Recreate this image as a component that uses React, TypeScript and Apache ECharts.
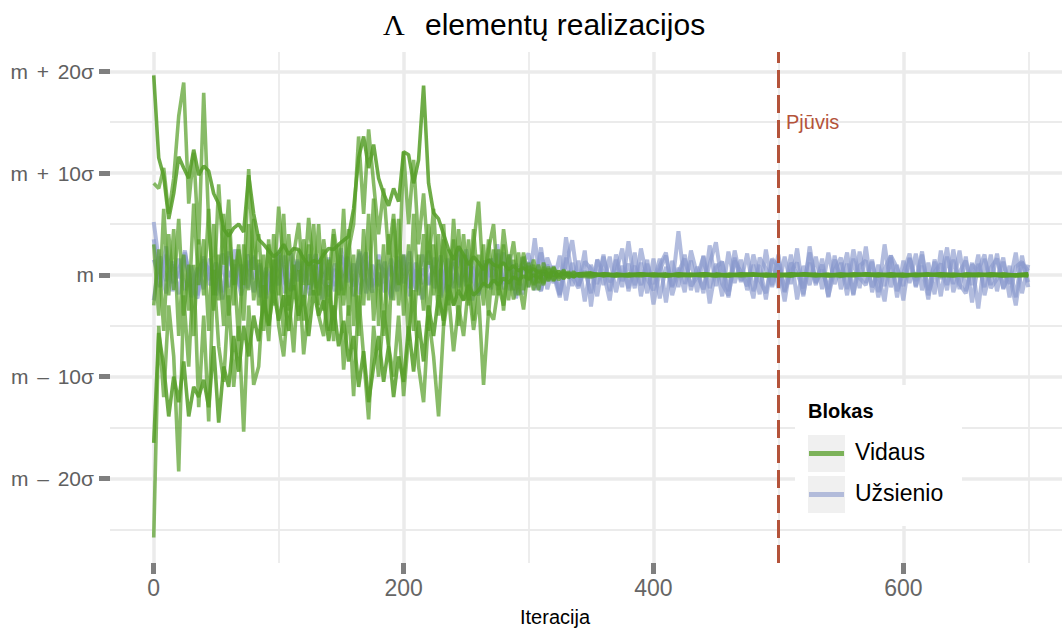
import React, { useEffect, useRef } from "react";
import * as echarts from "echarts";

// ---- iteration grids ----
const HEAD_ITERS: number[] = Array.from({ length: 86 }, (_, i) => i * 4); // 0..340
const TAIL_ITERS: number[] = Array.from({ length: 36 }, (_, i) => 350 + i * 10); // 350..700
const BLUE_ITERS: number[] = Array.from({ length: 141 }, (_, i) => i * 5); // 0..700

// ---- Vidaus (green) chains, in sigma units around m ----
const G1_HEAD = [
  19.6, 11.5, 9.7, 5.5, 8.0, 11.6, 10.5, 9.5, 12.3, 9.8,
  10.7, 10.2, 8.0, 7.0, 4.5, 3.8, 4.6, 5.0, 4.2, 9.8,
  6.0, 3.5, 3.0, 2.4, 1.8, 2.2, 3.0, 2.0, 2.6, 2.5,
  1.6, 1.0, 1.4, 1.2, 2.0, 2.6, 2.5, 3.0, 3.4, 3.8,
  6.5, 11.5, 13.6, 10.5, 12.8, 9.5, 8.0, 6.8, 8.5, 7.2,
  12.1, 11.8, 9.0, 11.3, 18.6, 9.0, 6.1, 5.5, 4.0, 2.5,
  1.5, 2.8, 2.0, 1.0, 1.8, 1.2, 0.5, 1.5, 1.0, 0.8,
  1.2, 0.5, 0.9, 0.4, 0.7, 0.3, 0.6, 0.2, 0.4, 0.1,
  0.3, 0.0, 0.2, 0.1, -0.1, 0.1,
];
const G2_HEAD = [
  9.0, 8.5, 10.5, 6.0, 9.5, 15.6, 18.9, 7.0, 12.0, 3.0,
  17.9, 5.0, -2.0, 8.9, 1.0, 7.4, -3.0, 2.5, -1.0, 10.4,
  0.5, 4.0, -2.5, 3.0, -1.5, 6.7, 1.0, -3.0, 2.0, 5.1,
  -1.0, 5.6, 0.5, -2.0, 3.5, -0.5, 4.5, 1.0, -3.0, 2.5,
  5.0, 13.6, 6.0, 14.3, 9.0, 4.0, 8.5, 2.0, 6.0, -1.0,
  12.1, 5.0, 11.3, 3.0, 8.0, 1.0, 6.5, -2.0, 3.5, -3.0,
  5.5, -1.5, 4.0, -2.5, 3.0, 7.2, -1.0, 2.5, 5.0, -1.5,
  4.5, 0.5, 3.3, -1.0, 2.2, -0.5, 1.5, -0.8, 1.2, -0.5,
  0.8, -0.3, 0.5, -0.2, 0.3, -0.1,
];
const G3_HEAD = [
  -16.5, -5.7, -9.0, -13.9, -10.0, -12.5, -8.5, -13.9, -11.0, -12.0,
  -10.3, -13.0, -7.0, -14.5, -9.0, -11.0, -6.0, -9.5, -5.0, -8.0,
  -4.0, -6.5, -2.5, -5.0, -1.5, -4.5, -2.0, -5.5, -1.0, -4.0,
  -2.0, -6.0, -1.5, -4.0, -2.5, -6.5, -3.0, -7.0, -4.5, -8.5,
  -6.0, -11.0, -7.5, -12.5, -9.0, -6.0, -10.5, -7.0, -12.0, -8.0,
  -10.5, -5.0, -9.5, -4.5, -8.5, -3.0, -6.0, -2.0, -4.5, -1.0,
  -3.0, -1.5, -2.5, -1.0, -2.0, -1.5, -0.8, -1.2, -0.5, -1.0,
  -0.3, -0.8, -0.2, -0.5, -0.1, -0.4, 0.0, -0.3, 0.1, -0.2,
  0.0, -0.1, 0.1, 0.0, -0.1, 0.0,
];
const G4_HEAD = [
  -25.8, -5.0, -12.0, -3.0, -8.0, -19.3, -2.0, -9.0, 1.0, -13.0,
  -4.0, -14.4, 0.5, -7.0, -10.5, -2.0, -11.0, -5.0, -15.4, -3.0,
  -10.8, -9.0, -1.0, -6.5, 1.5, -5.0, -8.0, -2.0, -7.6, 0.5,
  -7.8, -3.0, 1.0, -4.0, -6.0, -1.0, -5.5, 0.5, -9.3, -3.0,
  -11.9, -2.0, -8.0, -14.2, -5.0, -10.0, -3.5, -7.0, -10.0, -4.0,
  -11.9, -6.0, -1.5, -9.0, -12.5, -4.0, -8.0, -13.9, -5.0, -2.0,
  -7.5, -3.0, -6.0, -1.0, -5.4, -2.0, -10.8, -3.5, -4.4, -1.0,
  -3.0, 0.5, -2.4, -0.5, -3.4, 0.9, -1.5, 0.5, -1.0, 0.8,
  -0.6, 0.4, -0.4, 0.3, -0.2, 0.1,
];
const G5_HEAD = [
  3.0, -4.0, 6.5, -2.0, 4.5, -6.0, 2.0, -3.5, 7.0, -1.0,
  3.5, -5.5, 5.0, -2.5, 6.0, -4.0, 1.5, -6.5, 3.0, -1.5,
  5.5, -3.0, 2.0, -5.0, 4.0, -2.0, 6.0, -3.5, 1.0, -4.5,
  3.5, -1.0, 5.0, -3.0, 2.5, -5.5, 4.0, -2.0, 6.5, -4.0,
  2.0, -6.0, 4.5, -2.5, 7.5, -5.0, 3.0, -7.0, 5.5, -3.0,
  2.0, -6.5, 6.0, -2.0, 4.0, -5.5, 3.0, -4.0, 5.0, -2.5,
  3.5, -5.0, 2.0, -3.0, 4.5, -2.0, 3.0, -4.0, 2.5, -2.0,
  3.0, -2.5, 1.5, -2.0, 1.8, -1.2, 1.0, -1.5, 0.8, -0.6,
  0.7, -0.5, 0.4, -0.3, 0.2, -0.1,
];
const G6_HEAD = [
  -3.0, 2.5, -5.5, 4.0, -1.5, 5.5, -4.0, 1.0, -6.0, 3.5,
  -2.0, 6.5, -3.5, 2.0, -5.0, 4.5, -1.0, 3.0, -4.5, 5.0,
  -2.5, 1.5, -5.5, 3.5, -3.0, 2.0, -6.0, 4.0, -1.5, 2.5,
  -4.5, 3.0, -2.0, 5.0, -3.5, 1.5, -6.5, 3.0, -2.0, 4.5,
  -5.0, 2.5, -3.0, 6.0, -4.5, 1.5, -6.0, 4.0, -2.5, 5.5,
  -4.0, 3.0, -5.5, 2.0, -3.5, 5.0, -2.0, 4.0, -5.0, 2.5,
  -3.0, 4.5, -2.5, 3.5, -4.5, 2.0, -3.0, 3.5, -2.0, 2.5,
  -3.5, 2.0, -1.5, 2.2, -1.5, 1.2, -1.0, 1.0, -0.8, 0.6,
  -0.5, 0.4, -0.3, 0.2, -0.2, 0.1,
];
const G1_TAIL = [
  0.2, -0.1, 0.1, 0.0, 0.1, -0.1, 0.0, 0.1, 0.0, -0.1, 0.1, 0.0,
  0.0, 0.1, -0.1, 0.0, 0.1, 0.0, -0.1, 0.0, 0.1, 0.0, 0.0, -0.1,
  0.1, 0.0, 0.0, 0.1, -0.1, 0.0, 0.0, 0.1, 0.0, -0.1, 0.0, 0.1,
];
const G2_TAIL = [
  -0.2, 0.1, 0.0, -0.1, 0.1, 0.0, -0.1, 0.0, 0.1, 0.0, -0.1, 0.1,
  0.0, 0.0, -0.1, 0.1, 0.0, 0.0, 0.1, -0.1, 0.0, 0.0, 0.1, 0.0,
  -0.1, 0.0, 0.1, 0.0, 0.0, -0.1, 0.1, 0.0, 0.0, 0.1, -0.1, 0.0,
];
const G3_TAIL = [
  0.1, 0.0, -0.1, 0.1, 0.0, 0.0, 0.1, -0.1, 0.0, 0.1, 0.0, -0.1,
  0.1, 0.0, 0.0, -0.1, 0.0, 0.1, 0.0, 0.0, -0.1, 0.1, 0.0, 0.1,
  0.0, -0.1, 0.0, 0.0, 0.1, 0.0, -0.1, 0.0, 0.1, 0.0, 0.0, -0.1,
];
const G4_TAIL = [
  -0.1, 0.1, 0.0, 0.0, -0.1, 0.1, 0.0, 0.0, -0.1, 0.1, 0.0, 0.0,
  -0.1, 0.0, 0.1, 0.0, -0.1, 0.1, 0.0, 0.0, 0.0, -0.1, 0.1, 0.0,
  0.0, 0.1, -0.1, 0.0, 0.0, 0.1, 0.0, 0.0, -0.1, 0.1, 0.0, 0.0,
];
const G5_TAIL = [
  0.1, 0.0, -0.1, 0.0, 0.1, 0.0, -0.1, 0.1, 0.0, 0.0, -0.1, 0.0,
  0.1, 0.0, 0.0, -0.1, 0.1, 0.0, 0.0, 0.1, -0.1, 0.0, 0.1, 0.0,
  -0.1, 0.0, 0.0, 0.1, 0.0, -0.1, 0.1, 0.0, 0.0, -0.1, 0.0, 0.1,
];
const G6_TAIL = [
  0.0, 0.1, 0.0, -0.1, 0.0, 0.1, -0.1, 0.0, 0.0, 0.1, 0.0, -0.1,
  0.0, 0.1, 0.0, 0.0, -0.1, 0.1, 0.0, -0.1, 0.0, 0.1, 0.0, 0.0,
  0.1, -0.1, 0.0, 0.0, 0.1, 0.0, 0.0, -0.1, 0.1, 0.0, -0.1, 0.0,
];

// ---- Užsienio (blue) chains ----
const B1 = [
  3.5, -1.2, 2.0, -0.8, 1.6, -1.5, 0.9, -2.0, 1.8, -0.5,
  1.2, -1.7, 2.3, -0.9, 1.0, -1.3, 1.9, -2.2, 0.7, -1.0,
  1.5, -1.8, 2.1, -0.6, 1.3, -1.4, 0.8, -2.4, 1.7, -1.1,
  2.6, -0.7, 1.1, -1.9, 1.4, -1.2, 2.0, -0.8, 0.9, -1.6,
  1.8, -2.1, 1.2, -0.9, 2.4, -1.3, 0.6, -1.7, 1.5, -1.0,
  1.9, -2.5, 1.0, -1.2, 1.6, -0.7, 2.2, -1.5, 1.1, -1.9,
  1.3, -0.8, 2.7, -1.4, 0.9, -2.0, 1.7, -1.1, 1.4, -2.6,
  1.0, -0.9, 2.0, -1.6, 1.5, -1.2, 3.3, -1.0, 1.2, -1.8,
  1.6, -2.3, 0.8, -1.1, 4.3, -0.9, 1.4, -1.7, 1.9, -1.3,
  1.1, -2.1, 2.3, -0.8, 1.5, -1.5, 1.0, -1.9, 2.5, -1.2,
  1.3, -1.6, 2.0, -2.4, 0.9, -1.0, 1.8, -1.4, 2.2, -0.9,
  1.2, -2.0, 1.6, -1.3, 2.8, -1.7, 1.0, -1.1, 1.7, -2.2,
  1.4, -0.8, 2.1, -1.5, 1.2, -1.9, 2.4, -1.0, 1.5, -1.4,
  1.8, -2.7, 1.1, -1.2, 2.0, -1.6, 1.3, -0.9, 2.2, -1.8,
  1.0,
];
const B2 = [
  -2.5, 1.8, -0.6, 1.3, -1.9, 2.2, -1.1, 0.7, -1.4, 1.6,
  -2.0, 0.9, -1.2, 2.5, -0.8, 1.4, -1.7, 1.1, -2.3, 0.8,
  -1.0, 1.9, -1.6, 1.2, -0.7, 2.0, -1.3, 1.5, -2.1, 0.6,
  -1.5, 1.7, -0.9, 2.3, -1.8, 1.0, -1.1, 1.3, -2.4, 1.8,
  -0.8, 1.2, -1.6, 2.0, -1.0, 0.9, -2.2, 1.6, -1.3, 2.6,
  -0.7, 1.4, -1.9, 1.1, -1.4, 2.1, -0.9, 1.3, -2.0, 1.7,
  -1.2, 3.6, -1.5, 1.0, -0.8, 1.9, -2.5, 1.2, -1.1, 2.4,
  -3.1, 1.5, -1.0, 1.8, -1.7, 0.9, -1.3, 2.2, -2.1, 1.1,
  -0.9, 1.6, -2.7, 1.4, -1.2, 2.0, -1.5, 0.8, -1.8, 2.9,
  -1.1, 1.3, -2.2, 1.7, -0.7, 2.1, -1.6, 1.0, -2.4, 1.5,
  -1.3, 1.8, -0.9, 2.6, -1.9, 1.2, -1.0, 1.6, -2.2, 1.9,
  -1.4, 1.1, -2.0, 2.3, -0.8, 1.5, -1.7, 3.0, -1.2, 1.0,
  -2.5, 1.7, -1.1, 2.0, -1.5, 1.3, -2.1, 1.8, -0.9, 2.4,
  -1.6, 1.2, -3.3, 1.6, -1.0, 2.1, -1.4, 0.9, -2.2, 1.9,
  -1.2,
];
const B3 = [
  5.2, 0.5, -1.8, 1.0, -0.3, 2.4, -2.2, 0.2, 1.5, -1.0,
  0.4, -2.4, 1.8, 0.0, -1.3, 2.0, -0.4, 0.9, -1.9, 0.3,
  2.2, -0.8, -1.5, 1.3, 0.1, -2.0, 1.6, -0.2, 0.7, -1.6,
  1.9, 0.2, -1.1, 2.1, -0.5, -1.7, 1.0, 0.4, -2.2, 1.4,
  0.0, 2.3, -1.4, 0.6, -0.9, 1.7, -2.0, 0.3, 1.2, -1.2,
  2.5, -0.3, -1.8, 0.8, 1.5, -1.0, 0.1, 2.0, -2.3, 0.5,
  1.1, -1.5, 2.2, -0.6, 0.4, -1.9, 3.7, -0.2, -1.3, 1.3,
  0.6, -2.1, 1.8, -0.7, 0.2, 2.6, -1.6, 0.9, -1.0, 1.5,
  -2.9, 0.4, 1.9, -1.2, 0.7, -1.7, 2.4, 0.0, -1.4, 1.1,
  3.2, -0.9, -2.0, 1.4, 0.3, -1.1, 2.0, -0.5, -1.8, 1.6,
  0.8, -2.6, 1.2, 0.1, -1.3, 2.2, -0.7, 1.0, -2.1, 0.5,
  1.7, -1.4, 2.5, -0.3, -1.0, 1.3, -2.2, 0.6, 1.9, -1.6,
  0.2, 2.1, -1.2, 0.9, -2.4, 1.5, -0.4, 2.7, -1.7, 0.3,
  1.4, -1.0, 2.0, -2.0, 0.7, 1.6, -1.3, 0.1, -3.0, 1.2,
  0.4,
];
const B4 = [
  1.5, -0.4, 2.8, -1.6, 0.6, 1.9, -1.1, -2.3, 1.2, 0.5,
  -1.5, 2.1, -0.2, 1.0, -2.0, 0.8, 1.7, -1.2, 0.3, -1.8,
  2.4, 0.0, -1.0, 1.5, -2.2, 0.9, 2.0, -0.6, -1.4, 1.1,
  -0.3, 1.8, -2.1, 0.7, 2.2, -1.0, 0.2, -1.7, 1.6, -0.8,
  2.0, -1.3, 0.5, -2.4, 1.3, 0.1, 1.9, -1.5, -0.5, 2.3,
  -1.1, 0.8, -2.0, 1.4, -0.2, 3.0, -1.4, 0.6, -1.9, 1.0,
  2.1, -0.7, -1.6, 1.7, 0.0, -2.2, 1.2, 3.4, -1.0, 0.4,
  -1.8, 1.5, 0.2, -2.5, 2.0, -0.6, 1.1, -1.3, 2.6, -0.4,
  -1.5, 0.9, 2.2, -2.0, 0.3, 1.6, -1.1, -0.2, 1.8, -2.8,
  0.7, 1.3, -1.6, 2.4, -0.5, 0.1, -2.3, 1.7, 0.6, -1.0,
  2.0, -1.7, 0.4, 1.2, -2.1, 2.8, -0.8, 0.5, -1.4, 1.5,
  -0.3, 2.2, -1.9, 0.9, 1.4, -1.2, 0.0, -2.6, 1.9, 0.7,
  -1.1, 1.6, -0.6, 2.3, -2.0, 0.3, 1.1, -1.5, 2.5, -0.9,
  -1.8, 1.0, 0.4, 2.0, -1.3, -0.4, 1.7, -2.2, 0.8, 1.3,
  -0.7,
];

// ---- axes / annotations ----
const Y_TICKS = [-20, -10, 0, 10, 20];
const SP = "\u2004\u200a";
const Y_TICK_LABELS = [
  "m" + SP + "\u2013" + SP + "20\u03c3",
  "m" + SP + "\u2013" + SP + "10\u03c3",
  "m",
  "m" + SP + "+" + SP + "10\u03c3",
  "m" + SP + "+" + SP + "20\u03c3",
];
const Y_MINOR = [-25, -15, -5, 5, 15];
const X_TICKS = [0, 200, 400, 600];
const X_MINOR = [100, 300, 500, 700];
const CUT_ITER = 500;
const TITLE_SYMBOL = "\u039b";
const TITLE_TEXT = "elementų realizacijos";
const X_NAME = "Iteracija";
const CUT_LABEL = "Pjūvis";
const LEGEND_TITLE = "Blokas";
const LEGEND_ITEMS = ["Vidaus", "Užsienio"];

const GREEN = "#559e27";
const BLUE = "#8898cc";
const CUT_COLOR = "#b4533a";
const GRID_COLOR = "#ebebeb";
const SANS = '"Liberation Sans", Arial, sans-serif';

const pairs = (xs: number[], ys: number[]) => ys.map((y, i) => [xs[i], y]);

export default function App() {
  const ref = useRef<HTMLDivElement>(null);
  useEffect(() => {
    document.body.style.margin = "0";
    const chart = echarts.init(ref.current!, undefined, { renderer: "svg" });

    const greenChains = [
      { head: G5_HEAD, tail: G5_TAIL, op: 0.7 },
      { head: G6_HEAD, tail: G6_TAIL, op: 0.7 },
      { head: G1_HEAD, tail: G1_TAIL, op: 0.85 },
      { head: G2_HEAD, tail: G2_TAIL, op: 0.7 },
      { head: G3_HEAD, tail: G3_TAIL, op: 0.85 },
      { head: G4_HEAD, tail: G4_TAIL, op: 0.7 },
    ];
    const blueChains = [B1, B2, B3, B4];

    const gridLines = [
      ...Y_MINOR.map((v) => ({ yAxis: v, lineStyle: { color: GRID_COLOR, width: 1.8, type: "solid" } })),
      ...X_MINOR.map((v) => ({ xAxis: v, lineStyle: { color: GRID_COLOR, width: 1.8, type: "solid" } })),
      ...Y_TICKS.map((v) => ({ yAxis: v, lineStyle: { color: GRID_COLOR, width: 3.5, type: "solid" } })),
      ...X_TICKS.map((v) => ({ xAxis: v, lineStyle: { color: GRID_COLOR, width: 3.5, type: "solid" } })),
    ];

    const series: any[] = [
      {
        type: "line",
        data: [],
        silent: true,
        z: 0,
        markLine: {
          silent: true,
          z: 0,
          symbol: ["none", "none"],
          label: { show: false },
          data: gridLines,
        },
      },
      ...blueChains.map((b) => ({
        type: "line",
        name: LEGEND_ITEMS[1],
        data: pairs(BLUE_ITERS, b),
        showSymbol: false,
        symbol: "none",
        silent: true,
        z: 2,
        lineStyle: { color: BLUE, width: 4, opacity: 0.65 },
      })),
      ...greenChains.map((g) => ({
        type: "line",
        name: LEGEND_ITEMS[0],
        data: pairs(HEAD_ITERS, g.head).concat(pairs(TAIL_ITERS, g.tail)),
        showSymbol: false,
        symbol: "none",
        silent: true,
        z: 3,
        lineStyle: { color: GREEN, width: 3.6, opacity: g.op },
      })),
      {
        type: "line",
        data: [],
        silent: true,
        z: 4,
        markLine: {
          silent: true,
          z: 4,
          symbol: ["none", "none"],
          label: { show: false },
          data: [{ xAxis: CUT_ITER }],
          lineStyle: { color: CUT_COLOR, width: 3, type: [18, 7] },
        },
      },
    ];

    const txt = (text: string, x: number, y: number, font: string, fill = "#000", align = "left") => ({
      type: "text",
      x,
      y,
      z: 100,
      style: { text, fill, font, textAlign: align, textVerticalAlign: "middle" },
    });

    const option: any = {
      animation: false,
      backgroundColor: "#ffffff",
      grid: { left: 110, right: 0, top: 52, bottom: 67, containLabel: false },
      xAxis: {
        type: "value",
        min: -35,
        max: 727,
        axisLine: { show: false, onZero: false },
        splitLine: { show: false },
        axisTick: {
          show: true,
          customValues: X_TICKS,
          length: 11,
          lineStyle: { color: "#7f7f7f", width: 5 },
        },
        axisLabel: {
          customValues: X_TICKS,
          fontSize: 23,
          fontFamily: SANS,
          color: "#666666",
          margin: 13,
        },
      },
      yAxis: {
        type: "value",
        min: -28.3,
        max: 21.9,
        axisLine: { show: false, onZero: false },
        splitLine: { show: false },
        axisTick: {
          show: true,
          customValues: Y_TICKS,
          length: 11,
          lineStyle: { color: "#7f7f7f", width: 5 },
        },
        axisLabel: {
          customValues: Y_TICKS,
          fontSize: 21,
          fontFamily: SANS,
          color: "#606060",
          margin: 16,
          formatter: (v: number) => {
            const i = Y_TICKS.indexOf(Math.round(v));
            return i >= 0 ? Y_TICK_LABELS[i] : "";
          },
        },
      },
      series,
      graphic: [
        txt(TITLE_SYMBOL, 383, 24, '30px "Liberation Serif", serif'),
        txt(TITLE_TEXT, 425, 24, "30px " + SANS),
        txt(X_NAME, 555, 617, "20px " + SANS, "#000", "center"),
        txt(CUT_LABEL, 786, 122, "20px " + SANS, CUT_COLOR),
        { type: "rect", z: 100, shape: { x: 795, y: 385, width: 167, height: 141 }, style: { fill: "#ffffff" } },
        txt(LEGEND_TITLE, 808, 411, "bold 20px " + SANS),
        { type: "rect", z: 101, shape: { x: 808, y: 435, width: 37, height: 37 }, style: { fill: "#f0f0f0" } },
        { type: "rect", z: 101, shape: { x: 808, y: 476, width: 37, height: 37 }, style: { fill: "#f0f0f0" } },
        {
          type: "line",
          z: 102,
          shape: { x1: 809, y1: 453.5, x2: 844, y2: 453.5 },
          style: { stroke: GREEN, lineWidth: 5, opacity: 0.75 },
        },
        {
          type: "line",
          z: 102,
          shape: { x1: 809, y1: 494.5, x2: 844, y2: 494.5 },
          style: { stroke: BLUE, lineWidth: 5, opacity: 0.6 },
        },
        txt(LEGEND_ITEMS[0], 855, 452, "23px " + SANS),
        txt(LEGEND_ITEMS[1], 855, 493, "23px " + SANS),
      ],
    };
    chart.setOption(option);
    return () => chart.dispose();
  }, []);
  return <div ref={ref} style={{ width: 1062, height: 630 }} />;
}
